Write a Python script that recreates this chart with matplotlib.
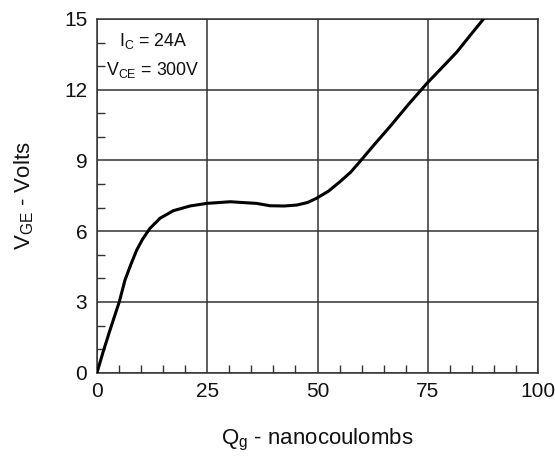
import matplotlib
matplotlib.use("Agg")
import matplotlib.pyplot as plt
from matplotlib.ticker import MultipleLocator

plt.rcParams['font.family'] = ['Liberation Sans', 'DejaVu Sans']
plt.rcParams['mathtext.fontset'] = 'custom'
plt.rcParams['mathtext.rm'] = 'Liberation Sans'
plt.rcParams['mathtext.it'] = 'Liberation Sans'

qg = [0, 1.4, 2.95, 5.06, 6.35, 7.7, 9.0, 10.3, 12.0, 14.3, 17.3, 21.1, 24.9, 30.2, 36.2, 39.2,
      42.5, 45.3, 47.8, 49.8, 52.5, 55.1, 57.5, 59.6, 63.0, 66.4, 70.5, 74.8, 78.3, 81.6, 84.6, 87.6]
vge = [0, 0.89, 1.81, 3.01, 3.93, 4.6, 5.2, 5.65, 6.12, 6.55, 6.87, 7.07, 7.18, 7.25, 7.18, 7.08,
       7.07, 7.11, 7.22, 7.4, 7.7, 8.1, 8.5, 8.95, 9.7, 10.43, 11.35, 12.27, 12.95, 13.6, 14.3, 14.99]

x_ticks = [0, 25, 50, 75, 100]
y_ticks = [0, 3, 6, 9, 12, 15]

fig = plt.figure(figsize=(5.55, 4.63), dpi=100)
ax = fig.add_axes([97/555, 1-372.7/463, (538-97)/555, (372.7-19)/463])

ax.plot(qg, vge, color='black', lw=2.2, solid_capstyle='round', solid_joinstyle='round', zorder=3)

ax.set_xlim(0, 100)
ax.set_ylim(0, 15)
ax.set_xticks(x_ticks)
ax.set_yticks(y_ticks)
ax.xaxis.set_minor_locator(MultipleLocator(5))
ax.yaxis.set_minor_locator(MultipleLocator(1))
ax.tick_params(which='major', length=0, labelsize=15, pad=7, colors='#111111')
ax.tick_params(which='minor', direction='in', length=6, width=1.0, color='#333333')
ax.grid(True, which='major', color='#333333', lw=1.1)
for s in ax.spines.values():
    s.set_color('#333333')
    s.set_linewidth(1.1)

ax.set_xlabel(r'$\mathregular{Q_g}$ - nanocoulombs', fontsize=16, labelpad=18, color='#111111')
ax.set_ylabel(r'$\mathregular{V_{GE}}$ - Volts', fontsize=16, labelpad=20, color='#111111')

ax.text(12.7, 14.05, r'$\mathregular{I_C}$ = 24A', fontsize=12.8, ha='center', va='center', color='#111111')
ax.text(12.7, 12.85, r'$\mathregular{V_{CE}}$ = 300V', fontsize=12.8, ha='center', va='center', color='#111111')

fig.savefig('out.png', dpi=100)
